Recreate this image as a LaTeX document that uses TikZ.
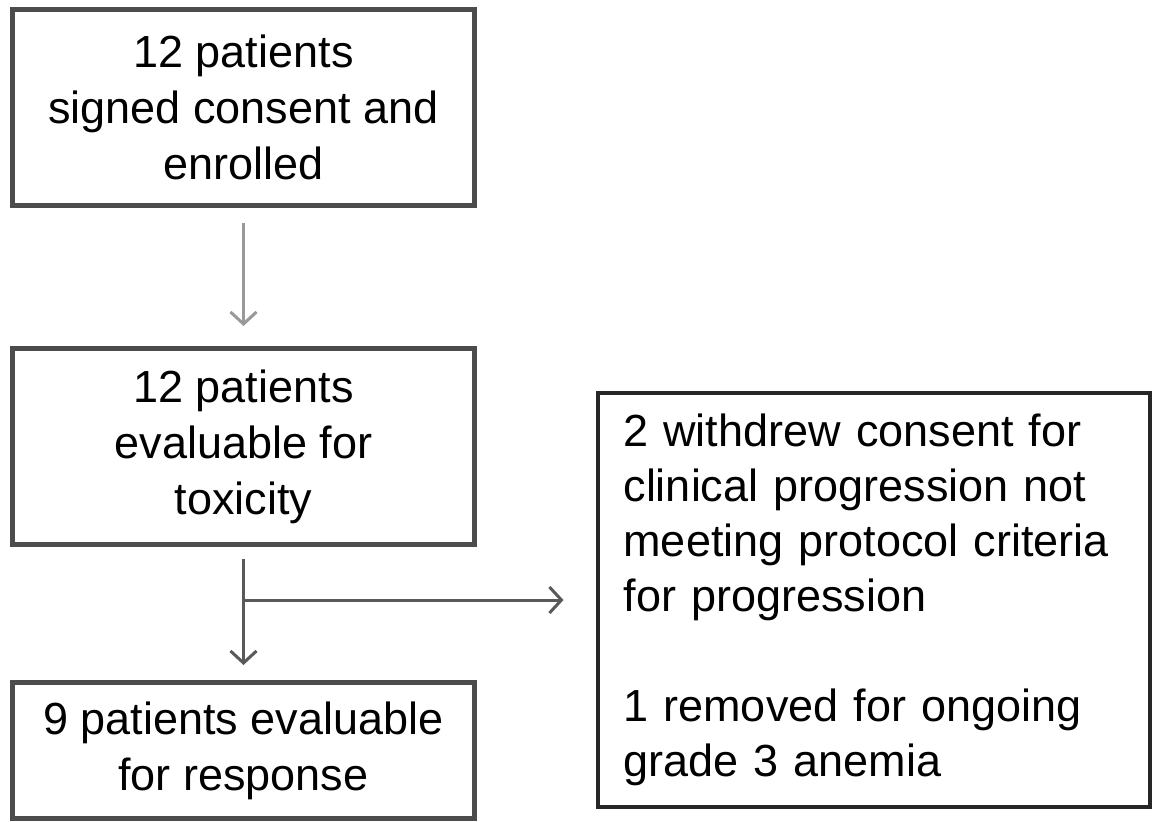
\documentclass[tikz,border=0pt]{standalone}
\usepackage{fontspec}
\setmainfont{Liberation Sans}
\usetikzlibrary{arrows.meta,positioning,calc}

\begin{document}
\begin{tikzpicture}[
    node distance=60pt and 60pt,
    stage/.style={rectangle, draw=black!70, line width=2.5pt, fill=white, minimum width=231pt, minimum height=98pt, align=center, font=\fontsize{22.5pt}{28pt}\selectfont},
    note/.style={rectangle, draw=black!85, line width=2pt, fill=white, minimum width=276pt, minimum height=207pt, inner xsep=13pt, text width=250pt, align=left, font=\fontsize{22.5pt}{27.5pt}\selectfont},
    flow/.style={-{Straight Barb[length=6pt,width=13pt]}, line width=1.5pt, draw=black!65},
    soft/.style={flow, draw=black!40}
]
\node[stage] (enrolled) {12 patients\\signed consent and\\enrolled};
\node[stage, below=69pt of enrolled] (toxicity) {12 patients\\evaluable for\\toxicity};
\node[stage, below=66.5pt of toxicity, minimum height=68pt] (response) {9 patients evaluable\\for response};
\coordinate[below=26.5pt of toxicity.south] (split);
\node[note, right=176pt of split] (withdrawn) {2 withdrew consent for clinical progression not meeting protocol criteria for progression\\[27.5pt]1 removed for ongoing grade 3 anemia};

% page frame
\useasboundingbox ($(enrolled.north west)+(-5pt,3.5pt)$) rectangle ($(enrolled.north west)+(573.5pt,-407pt)$);

\draw[soft, shorten <=7.5pt, shorten >=10pt] (enrolled) -- (toxicity);
\draw[flow, shorten <=6pt, shorten >=7.5pt] (toxicity) -- (response);
\draw[flow, shorten >=16pt] (split) -- (withdrawn.west);
\end{tikzpicture}
\end{document}
